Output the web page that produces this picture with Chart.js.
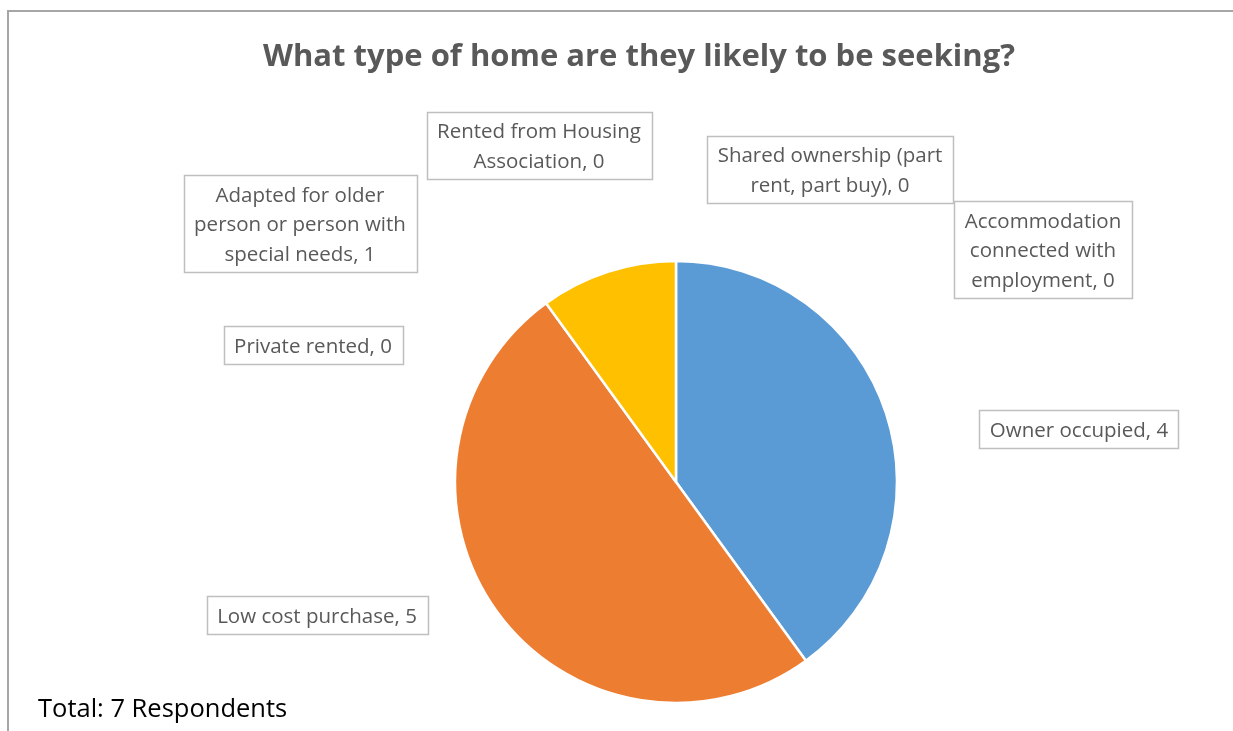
<!DOCTYPE html>
<html>
<head>
<meta charset="utf-8">
<script src="https://cdn.jsdelivr.net/npm/chart.js@4"></script>
<style>
  html, body { margin: 0; padding: 0; background: #fff; overflow: hidden; }
  #wrap { position: relative; width: 1233px; height: 731px; }
</style>
</head>
<body>
<div id="wrap"><canvas id="homeChart" width="1233" height="731"></canvas></div>
<script>
// Survey answers, in the order the slices go round (clockwise from 12 o'clock)
const categories = [
  "Owner occupied",
  "Low cost purchase",
  "Private rented",
  "Adapted for older person or person with special needs",
  "Rented from Housing Association",
  "Shared ownership (part rent, part buy)",
  "Accommodation connected with employment"
];
const responses = [4, 5, 0, 1, 0, 0, 0];
const sliceColors = ["#5B9BD5", "#ED7D31", "#A5A5A5", "#FFC000", "#4472C4", "#70AD47", "#264478"];

const chartTitle = "What type of home are they likely to be seeking?";
const footNote = "Total: 7 Respondents";

// where each data label box sits, and how many words go on each line
const labelBoxes = [
  { cx: 1079, cy: 429, words: [] },
  { cx: 317, cy: 615, words: [] },
  { cx: 313, cy: 345, words: [] },
  { cx: 300, cy: 223, words: [3, 4] },
  { cx: 539, cy: 145, words: [3] },
  { cx: 830, cy: 169, words: [3] },
  { cx: 1043, cy: 249, words: [1, 2] }
];

const FONT = "'Open Sans', Lato, sans-serif";

function splitLines(text, counts) {
  const words = text.split(" ");
  const lines = [];
  let pos = 0;
  counts.forEach(n => {
    lines.push(words.slice(pos, pos + n).join(" "));
    pos += n;
  });
  if (pos < words.length) lines.push(words.slice(pos).join(" "));
  return lines;
}

// frame, title, boxed data labels and the footnote
const decorations = {
  id: 'decorations',
  beforeDraw(chart) {
    const ctx = chart.ctx;
    ctx.save();
    ctx.strokeStyle = "#A6A6A6";
    ctx.lineWidth = 2;
    ctx.strokeRect(8, 11, 1400, 900);
    ctx.restore();
  },
  afterDraw(chart) {
    const ctx = chart.ctx;
    ctx.save();

    ctx.fillStyle = "#595959";
    ctx.font = "bold 31px " + FONT;
    ctx.textAlign = "center";
    ctx.textBaseline = "alphabetic";
    ctx.fillText(chartTitle, 639, 66);

    ctx.font = "20.5px " + FONT;
    const lineH = 29.5;
    categories.forEach((name, i) => {
      const box = labelBoxes[i];
      const lines = splitLines(name + ", " + responses[i], box.words);
      const w = Math.max(...lines.map(l => ctx.measureText(l).width)) + 21;
      const h = lines.length * lineH + 8;
      ctx.strokeStyle = "#BFBFBF";
      ctx.lineWidth = 1.5;
      ctx.strokeRect(Math.round(box.cx - w / 2) + 0.5, Math.round(box.cy - h / 2) + 0.5, Math.round(w), Math.round(h));
      ctx.fillStyle = "#595959";
      lines.forEach((l, k) => {
        ctx.fillText(l, box.cx, box.cy - (lines.length - 1) * lineH / 2 + k * lineH + 8);
      });
    });

    ctx.fillStyle = "#000";
    ctx.textAlign = "left";
    ctx.font = "25.5px " + FONT;
    ctx.fillText(footNote, 38, 717);
    ctx.restore();
  }
};

new Chart(document.getElementById('homeChart'), {
  type: 'pie',
  data: {
    labels: categories,
    datasets: [{
      data: responses,
      backgroundColor: sliceColors,
      borderColor: "#FFFFFF",
      borderWidth: 2.5
    }]
  },
  options: {
    responsive: false,
    animation: false,
    radius: 221,
    layout: { padding: { left: 150, right: 31, top: 260, bottom: 27 } },
    plugins: {
      legend: { display: false },
      tooltip: { enabled: false }
    }
  },
  plugins: [decorations]
});
</script>
</body>
</html>
